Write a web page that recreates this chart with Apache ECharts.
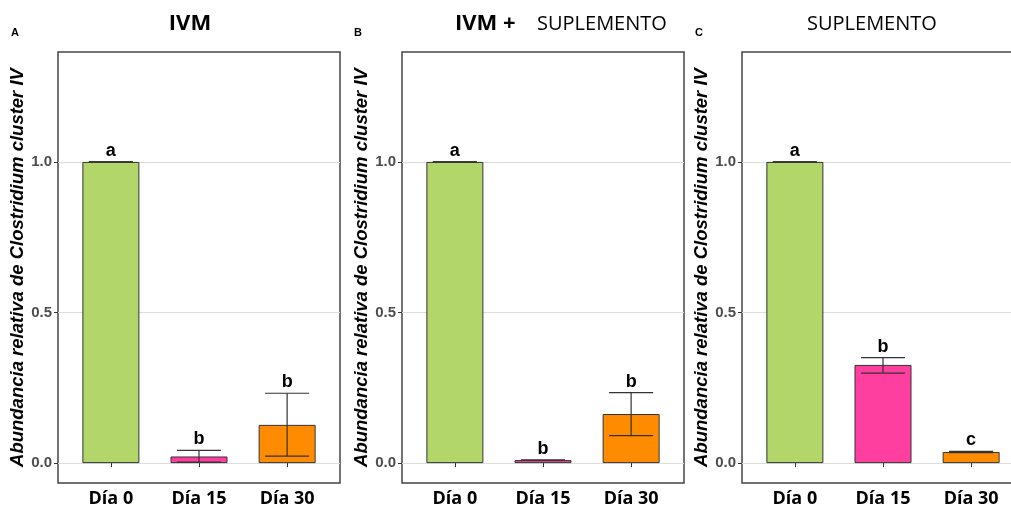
<!DOCTYPE html>
<html>
<head>
<meta charset="utf-8">
<script src="https://cdn.jsdelivr.net/npm/echarts@6/dist/echarts.min.js"></script>
<style>
  html, body { margin: 0; padding: 0; background: #fff; }
  #chart { width: 1011px; height: 511px; }
</style>
</head>
<body>
<div id="chart"></div>
<script>
const days = ['Día 0', 'Día 15', 'Día 30'];
const dayPos = [1, 2, 3];
const barColors = ['#b3d66a', '#ff3f9f', '#ff8c00'];
const yTicks = [0, 0.5, 1.0];
const yName = 'Abundancia relativa de Clostridium cluster IV';

// A: IVM
const ivmMean = [1.0, 0.022, 0.127];
const ivmLow = [1.0, 0.003, 0.023];
const ivmHigh = [1.0, 0.042, 0.232];
const ivmLetters = ['a', 'b', 'b'];

// B: IVM + SUPLEMENTO
const ivmSupMean = [1.0, 0.010, 0.163];
const ivmSupLow = [1.0, 0.010, 0.091];
const ivmSupHigh = [1.0, 0.010, 0.234];
const ivmSupLetters = ['a', 'b', 'b'];

// C: SUPLEMENTO
const supMean = [1.0, 0.326, 0.037];
const supLow = [1.0, 0.299, 0.035];
const supHigh = [1.0, 0.350, 0.039];
const supLetters = ['a', 'b', 'c'];

const panels = [
  { left: 58, mean: ivmMean, low: ivmLow, high: ivmHigh, letters: ivmLetters },
  { left: 402, mean: ivmSupMean, low: ivmSupLow, high: ivmSupHigh, letters: ivmSupLetters },
  { left: 742, mean: supMean, low: supLow, high: supHigh, letters: supLetters }
];

const grid = [], xAxis = [], yAxis = [], series = [];

panels.forEach((p, i) => {
  grid.push({
    left: p.left, top: 52, width: 282, bottom: 28,
    outerBoundsMode: 'none', containLabel: false,
    show: true, borderColor: '#444', borderWidth: 1.5, backgroundColor: '#fff'
  });
  xAxis.push({
    gridIndex: i, type: 'value', min: 0.4, max: 3.6,
    splitLine: { show: false },
    axisLine: { show: false },
    axisTick: { show: true, customValues: dayPos, length: 4, lineStyle: { color: '#333' } },
    axisLabel: {
      customValues: dayPos,
      formatter: (v) => days[Math.round(v) - 1],
      color: '#000', fontFamily: 'Open Sans', fontWeight: 'bold', fontSize: 18, margin: 7
    }
  });
  yAxis.push({
    gridIndex: i, type: 'value', min: -0.066, max: 1.365,
    name: yName, nameLocation: 'middle', nameGap: 29,
    nameTextStyle: { fontStyle: 'italic', fontWeight: 'bold', fontSize: 18.5, fontFamily: 'Liberation Sans', color: '#000' },
    axisLine: { show: false },
    axisTick: { show: true, customValues: yTicks, length: 4, lineStyle: { color: '#333' } },
    axisLabel: {
      customValues: yTicks,
      formatter: (v) => v.toFixed(1),
      color: '#4d4d4d', fontWeight: 'bold', fontSize: 15, fontFamily: 'Liberation Sans', margin: 6
    },
    splitLine: { show: true, lineStyle: { color: '#dcdcdc', width: 1 } }
  });

  series.push({
    type: 'bar', xAxisIndex: i, yAxisIndex: i, barWidth: 57, z: 2,
    data: p.mean.map((m, j) => ({
      value: [dayPos[j], m],
      itemStyle: { color: barColors[j], borderColor: '#333', borderWidth: 1 }
    }))
  });

  series.push({
    type: 'custom', xAxisIndex: i, yAxisIndex: i, z: 3,
    data: dayPos.map((x, j) => [x, p.low[j], p.high[j]]),
    encode: { x: 0, y: [1, 2] },
    renderItem: (params, api) => {
      const x = api.value(0);
      const lo = api.coord([x, api.value(1)]);
      const hi = api.coord([x, api.value(2)]);
      const hw = api.size([0.5, 0])[0] / 2;
      const st = { stroke: '#333', lineWidth: 1.2 };
      return {
        type: 'group',
        children: [
          { type: 'line', shape: { x1: lo[0], y1: lo[1], x2: hi[0], y2: hi[1] }, style: st },
          { type: 'line', shape: { x1: hi[0] - hw, y1: hi[1], x2: hi[0] + hw, y2: hi[1] }, style: st },
          { type: 'line', shape: { x1: lo[0] - hw, y1: lo[1], x2: lo[0] + hw, y2: lo[1] }, style: st }
        ]
      };
    }
  });

  series.push({
    type: 'custom', xAxisIndex: i, yAxisIndex: i, z: 4,
    data: dayPos.map((x, j) => [x, p.high[j]]),
    encode: { x: 0, y: 1 },
    renderItem: (params, api) => {
      const pt = api.coord([api.value(0), api.value(1)]);
      return {
        type: 'text',
        x: pt[0], y: pt[1] - 2,
        style: {
          text: p.letters[params.dataIndex],
          fill: '#000', font: 'bold 18px "Liberation Sans"',
          align: 'center', verticalAlign: 'bottom'
        }
      };
    }
  });
});

const graphic = [
  { type: 'text', x: 15, y: 33, style: { text: 'A', font: 'bold 11px "Liberation Sans"', fill: '#000', align: 'center', verticalAlign: 'middle' } },
  { type: 'text', x: 358, y: 33, style: { text: 'B', font: 'bold 11px "Liberation Sans"', fill: '#000', align: 'center', verticalAlign: 'middle' } },
  { type: 'text', x: 699, y: 33, style: { text: 'C', font: 'bold 11px "Liberation Sans"', fill: '#000', align: 'center', verticalAlign: 'middle' } },
  { type: 'text', x: 190, y: 24, style: { text: 'IVM', font: 'bold 22px "Open Sans"', fill: '#000', align: 'center', verticalAlign: 'middle' } },
  { type: 'text', x: 455, y: 24, style: { text: 'IVM +', font: 'bold 22px "Open Sans"', fill: '#000', align: 'left', verticalAlign: 'middle' } },
  { type: 'text', x: 537, y: 24, style: { text: 'SUPLEMENTO', font: '20px "Open Sans"', fill: '#000', align: 'left', verticalAlign: 'middle' } },
  { type: 'text', x: 807, y: 24, style: { text: 'SUPLEMENTO', font: '20px "Open Sans"', fill: '#000', align: 'left', verticalAlign: 'middle' } }
];

const myChart = echarts.init(document.getElementById('chart'), null, { renderer: 'canvas' });
myChart.setOption({
  animation: false,
  backgroundColor: '#fff',
  grid: grid,
  xAxis: xAxis,
  yAxis: yAxis,
  series: series,
  graphic: graphic
});
</script>
</body>
</html>
